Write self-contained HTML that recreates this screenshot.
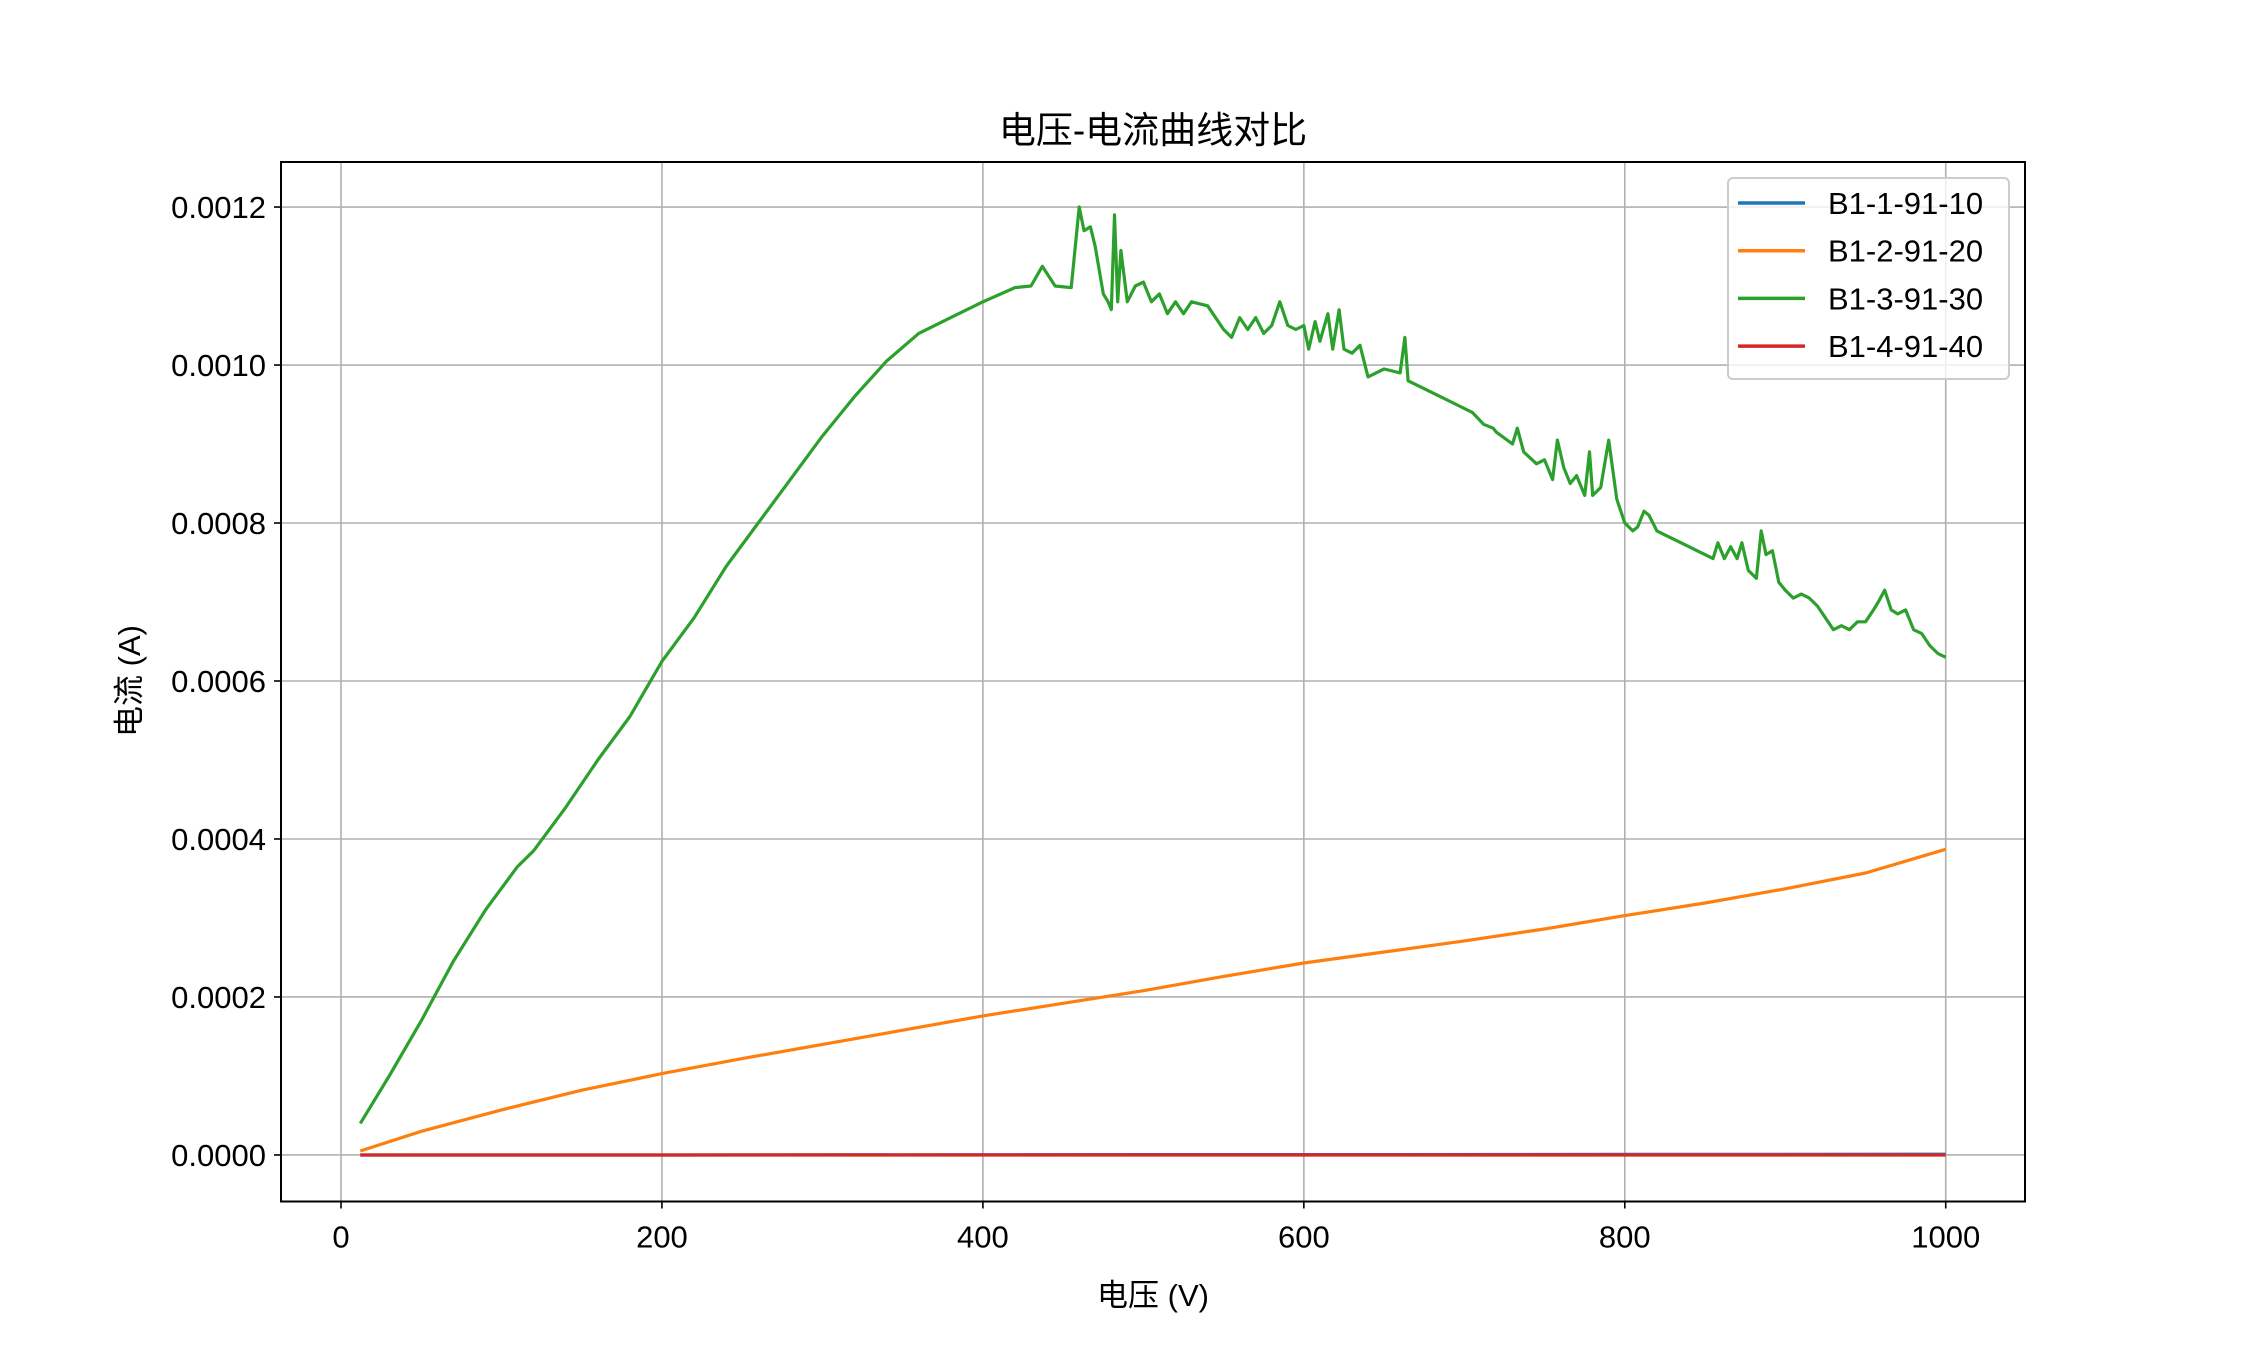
<!DOCTYPE html>
<html><head><meta charset="utf-8"><style>
html,body{margin:0;padding:0;background:#fff;}
svg text{font-family:"Liberation Sans","Noto Sans CJK SC",sans-serif;fill:#000;}
</style></head><body>
<svg id="chart" width="2250" height="1350" viewBox="0 0 2250 1350" xmlns="http://www.w3.org/2000/svg">
<rect width="2250" height="1350" fill="#fff"/>
<text x="1153" y="143" font-size="37" text-anchor="middle">电压-电流曲线对比</text>
<g id="grid"></g>
<g id="series"></g>
<rect x="281" y="162" width="1744" height="1039.5" fill="none" stroke="#000" stroke-width="2"/>
<g id="ticks"></g>
<text x="1153" y="1306" font-size="31" text-anchor="middle">电压 (V)</text>
<text transform="translate(140,681) rotate(-90)" font-size="31" text-anchor="middle">电流 (A)</text>
<g id="legend"></g>
</svg>
<script>
const seriesNames = ["B1-1-91-10","B1-2-91-20","B1-3-91-30","B1-4-91-40"];
const seriesColors = ["#1f77b4","#ff7f0e","#2ca02c","#d62728"];
const xTicks = [0,200,400,600,800,1000];
const yTicks = [0,0.0002,0.0004,0.0006,0.0008,0.0010,0.0012];
const yTickLabels = ["0.0000","0.0002","0.0004","0.0006","0.0008","0.0010","0.0012"];
const blueV = [12,200,400,600,800,1000];
const blueI = [0,0,0.0000003,0.0000005,0.0000007,0.000001];
const orangeV = [12,50,100,150,200,250,300,350,400,450,500,550,600,650,700,750,800,850,900,950,1000];
const orangeI = [0.000005,0.00003,0.000057,0.000082,0.000103,0.000122,0.00014,0.000158,0.000176,0.000192,0.000208,0.000226,0.000243,0.000257,0.000271,0.000286,0.000303,0.000319,0.000337,0.000357,0.000387];
const greenV = [12,30,50,70,90,110,120,140,160,180,200,220,240,260,280,300,320,340,360,380,400,420,430,437,445,455,460,463,467,470,475,478,480,482,484,486,490,495,500,505,510,515,520,525,530,540,550,555,560,565,570,575,580,585,590,595,600,603,607,610,615,618,622,625,630,635,640,645,650,660,663,665,675,685,695,705,712,718,720,730,733,737,745,750,755,758,762,766,770,775,778,780,785,790,795,800,805,808,812,815,820,825,830,840,845,850,855,858,862,866,870,873,877,882,885,888,892,896,900,905,910,915,920,925,930,935,940,945,950,955,958,962,966,970,975,980,985,990,995,1000];
const greenI = [0.00004,0.0001,0.00017,0.000245,0.00031,0.000365,0.000385,0.00044,0.0005,0.000555,0.000625,0.00068,0.000745,0.0008,0.000855,0.00091,0.00096,0.001005,0.00104,0.00106,0.00108,0.001098,0.0011,0.001125,0.0011,0.001098,0.0012,0.00117,0.001175,0.00115,0.00109,0.00108,0.00107,0.00119,0.00108,0.001145,0.00108,0.0011,0.001105,0.00108,0.00109,0.001065,0.00108,0.001065,0.00108,0.001075,0.001045,0.001035,0.00106,0.001045,0.00106,0.00104,0.00105,0.00108,0.00105,0.001045,0.00105,0.00102,0.001055,0.00103,0.001065,0.00102,0.00107,0.00102,0.001015,0.001025,0.000985,0.00099,0.000995,0.00099,0.001035,0.00098,0.00097,0.00096,0.00095,0.00094,0.000925,0.00092,0.000915,0.0009,0.00092,0.00089,0.000875,0.00088,0.000855,0.000905,0.00087,0.00085,0.00086,0.000835,0.00089,0.000835,0.000845,0.000905,0.00083,0.0008,0.00079,0.000795,0.000815,0.00081,0.00079,0.000785,0.00078,0.00077,0.000765,0.00076,0.000755,0.000775,0.000755,0.00077,0.000755,0.000775,0.00074,0.00073,0.00079,0.00076,0.000765,0.000725,0.000715,0.000705,0.00071,0.000705,0.000695,0.00068,0.000665,0.00067,0.000665,0.000675,0.000675,0.00069,0.0007,0.000715,0.00069,0.000685,0.00069,0.000665,0.00066,0.000645,0.000635,0.00063];
const redV = [12,200,400,600,800,1000];
const redI = [0,0,0,0,0,0];

const L=281,R=2025,T=162,B=1201.5;
const xMin=-37.4,xMax=1049.4,yMin=-0.0000589,yMax=0.001257;
const sx=v=>L+(v-xMin)/(xMax-xMin)*(R-L);
const sy=v=>B-(v-yMin)/(yMax-yMin)*(B-T);
const NS="http://www.w3.org/2000/svg";
function mk(tag,attrs,parent){const e=document.createElementNS(NS,tag);for(const k in attrs)e.setAttribute(k,attrs[k]);parent.appendChild(e);return e;}
const grid=document.getElementById('grid'),ticks=document.getElementById('ticks'),series=document.getElementById('series'),legend=document.getElementById('legend');
xTicks.forEach(t=>{
  const x=sx(t);
  const g=mk('line',{x1:x,x2:x,y1:T,y2:B,stroke:'#b0b0b0','stroke-width':1.6},grid);
  
  
  const tk=mk('line',{x1:x,x2:x,y1:B,y2:B+7,stroke:'#000','stroke-width':1.6},ticks);
  
  
  const tx=mk('text',{x:x,y:B+46,'font-size':31,'text-anchor':'middle'},ticks);
  tx.textContent=String(t);
  
  
});
yTicks.forEach((t,i)=>{
  const y=sy(t);
  const g=mk('line',{x1:L,x2:R,y1:y,y2:y,stroke:'#b0b0b0','stroke-width':1.6},grid);
  
  
  const tk=mk('line',{x1:L-7,x2:L,y1:y,y2:y,stroke:'#000','stroke-width':1.6},ticks);
  
  
  const tx=mk('text',{x:L-15,y:y+11,'font-size':31,'text-anchor':'end'},ticks);
  tx.textContent=yTickLabels[i];
  
  
});
const data=[[blueV,blueI],[orangeV,orangeI],[greenV,greenI],[redV,redI]];
data.forEach((d,k)=>{
  const pts=d[0].map((v,i)=>sx(v).toFixed(1)+','+sy(d[1][i]).toFixed(1)).join(' ');
  const p=mk('polyline',{points:pts,fill:'none',stroke:seriesColors[k],'stroke-width':3.2,'stroke-linejoin':'round'},series);
  
  
});
const box=mk('rect',{x:1728,y:178,width:281,height:201,rx:5,fill:'#fff','fill-opacity':0.8,stroke:'#cccccc','stroke-width':2},legend);


seriesNames.forEach((n,k)=>{
  const y=203+k*47.7;
  const ln=mk('line',{x1:1738,x2:1805,y1:y,y2:y,stroke:seriesColors[k],'stroke-width':3.5},legend);
  
  
  const tx=mk('text',{x:1828,y:y+11,'font-size':31},legend);
  tx.textContent=n;
  
  
});
</script>
</body></html>
